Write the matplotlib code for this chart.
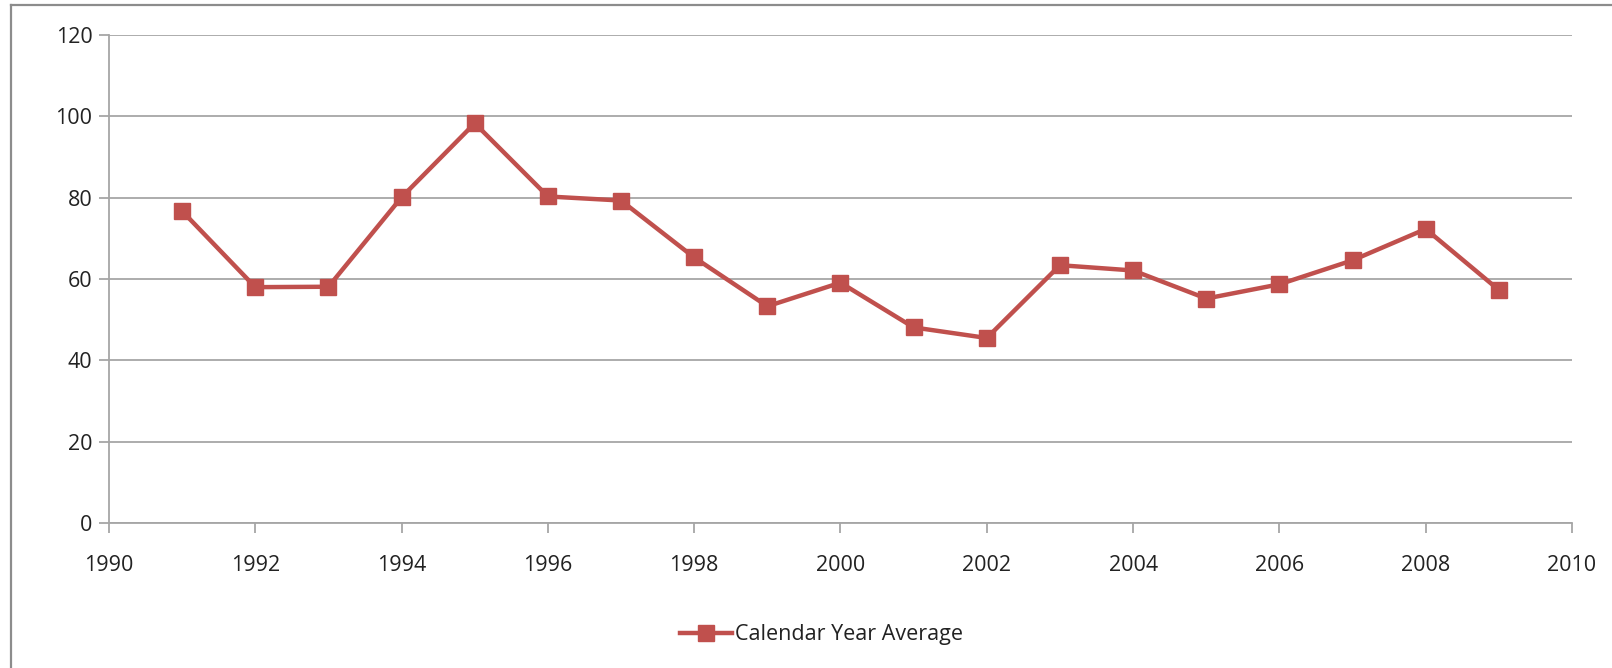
import matplotlib
matplotlib.use("Agg")
import matplotlib.pyplot as plt
from matplotlib.lines import Line2D

plt.rcParams['font.family'] = ['Open Sans', 'DejaVu Sans']

# data
years = [1991, 1992, 1993, 1994, 1995, 1996, 1997, 1998, 1999, 2000,
         2001, 2002, 2003, 2004, 2005, 2006, 2007, 2008, 2009]
cal_avg = [76.7, 58.0, 58.1, 80.1, 98.3, 80.3, 79.3, 65.3, 53.3, 59.1,
           48.1, 45.5, 63.4, 62.1, 55.2, 58.7, 64.6, 72.3, 57.3]
x_ticks = list(range(1990, 2011, 2))
y_ticks = list(range(0, 121, 20))

red = '#C0504D'
grey = '#A6A6A6'

fig = plt.figure(figsize=(16.12, 6.68), dpi=100)
ax = fig.add_axes([0.0676, 0.217, 0.9076, 0.7306])

ax.plot(years, cal_avg, color=red, lw=3.2, marker='s', ms=12,
        markeredgecolor=red, label='Calendar Year Average', clip_on=False)

ax.set_xlim(1990, 2010)
ax.set_ylim(0, 120)
ax.set_xticks(x_ticks)
ax.set_yticks(y_ticks)
ax.yaxis.grid(True, color=grey, lw=1.3)
ax.set_axisbelow(True)

for s in ['top', 'right']:
    ax.spines[s].set_visible(False)
for s in ['left', 'bottom']:
    ax.spines[s].set_color(grey)
    ax.spines[s].set_linewidth(1.3)

ax.tick_params(axis='x', length=7, width=1.3, color=grey, pad=16,
               labelsize=15.5, labelcolor='#222222')
ax.tick_params(axis='y', length=7, width=1.3, color=grey, pad=5,
               labelsize=15.5, labelcolor='#222222')

ax.legend(loc='center', bbox_to_anchor=(0.487, -0.229), frameon=False,
          fontsize=15.5, handlelength=2.4, handletextpad=0.15,
          labelcolor='#222222')

# outer chart border (only top and left visible)
fig.add_artist(Line2D([11 / 1612, 1], [1 - 5 / 668, 1 - 5 / 668],
                      color='#8C8C8C', lw=1.6, transform=fig.transFigure))
fig.add_artist(Line2D([11 / 1612, 11 / 1612], [0, 1 - 5 / 668],
                      color='#8C8C8C', lw=1.6, transform=fig.transFigure))

fig.savefig('out.png', dpi=100, facecolor='white')
